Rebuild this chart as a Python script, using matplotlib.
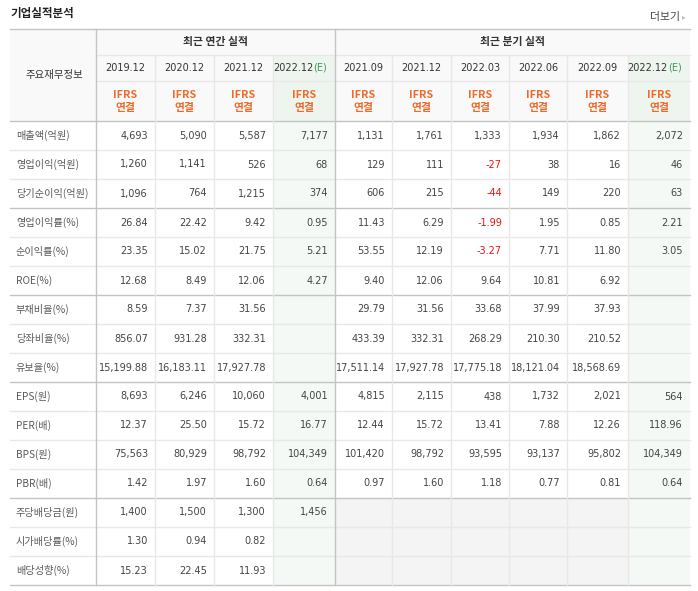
import matplotlib
matplotlib.use("Agg")
import matplotlib.pyplot as plt
from matplotlib.patches import Rectangle

# --- data -------------------------------------------------------------
row_labels = ['매출액(억원)', '영업이익(억원)', '당기순이익(억원)', '영업이익률(%)',
              '순이익률(%)', 'ROE(%)', '부채비율(%)', '당좌비율(%)', '유보율(%)',
              'EPS(원)', 'PER(배)', 'BPS(원)', 'PBR(배)', '주당배당금(원)',
              '시가배당률(%)', '배당성향(%)']
# 'i' -> integer with comma, 'f' -> 2 decimals
row_kinds = ['i', 'i', 'i', 'f', 'f', 'f', 'f', 'f', 'f', 'i', 'f', 'i', 'f', 'i', 'f', 'f']

annual_periods = ['2019.12', '2020.12', '2021.12', '2022.12']
quarter_periods = ['2021.09', '2021.12', '2022.03', '2022.06', '2022.09', '2022.12']

annual_values = [
    [4693, 5090, 5587, 7177],
    [1260, 1141, 526, 68],
    [1096, 764, 1215, 374],
    [26.84, 22.42, 9.42, 0.95],
    [23.35, 15.02, 21.75, 5.21],
    [12.68, 8.49, 12.06, 4.27],
    [8.59, 7.37, 31.56, None],
    [856.07, 931.28, 332.31, None],
    [15199.88, 16183.11, 17927.78, None],
    [8693, 6246, 10060, 4001],
    [12.37, 25.50, 15.72, 16.77],
    [75563, 80929, 98792, 104349],
    [1.42, 1.97, 1.60, 0.64],
    [1400, 1500, 1300, 1456],
    [1.30, 0.94, 0.82, None],
    [15.23, 22.45, 11.93, None],
]
quarter_values = [
    [1131, 1761, 1333, 1934, 1862, 2072],
    [129, 111, -27, 38, 16, 46],
    [606, 215, -44, 149, 220, 63],
    [11.43, 6.29, -1.99, 1.95, 0.85, 2.21],
    [53.55, 12.19, -3.27, 7.71, 11.80, 3.05],
    [9.40, 12.06, 9.64, 10.81, 6.92, None],
    [29.79, 31.56, 33.68, 37.99, 37.93, None],
    [433.39, 332.31, 268.29, 210.30, 210.52, None],
    [17511.14, 17927.78, 17775.18, 18121.04, 18568.69, None],
    [4815, 2115, 438, 1732, 2021, 564],
    [12.44, 15.72, 13.41, 7.88, 12.26, 118.96],
    [101420, 98792, 93595, 93137, 95802, 104349],
    [0.97, 1.60, 1.18, 0.77, 0.81, 0.64],
    [None] * 6,
    [None] * 6,
    [None] * 6,
]
quarter_na_rows = [13, 14, 15]   # shaded grey in quarterly block

# --- layout (pixels) ---------------------------------------------------
col_x = [10, 96, 155, 214, 273, 335, 392, 451, 509, 567, 628, 690]
head_y = [29, 55, 81, 121]
row_h = 29
row_y = [121 + i * row_h for i in range(len(row_labels) + 1)]
major_rows = [0, 3, 6, 9, 13, 16]

kr = ['Noto Sans CJK KR', 'DejaVu Sans']
num = ['DejaVu Sans', 'Noto Sans CJK KR']
dark_line = '#c4c4c4'
light_line = '#e8e8e8'
orange = '#ee6a2b'
green = '#3f9a5a'

fig = plt.figure(figsize=(6.98, 5.91), dpi=100)
ax = fig.add_axes([0, 0, 1, 1])
ax.set_xlim(0, 698)
ax.set_ylim(591, 0)
ax.axis('off')

# backgrounds
ax.add_patch(Rectangle((col_x[0], head_y[0]), col_x[-1] - col_x[0], head_y[-1] - head_y[0],
                       color='#f9f9f9', lw=0, zorder=0))
e_cols = [4, 10]
for c in e_cols:
    ax.add_patch(Rectangle((col_x[c], head_y[1]), col_x[c + 1] - col_x[c], head_y[-1] - head_y[1],
                           color='#eef5ef', lw=0, zorder=0))
    ax.add_patch(Rectangle((col_x[c], row_y[0]), col_x[c + 1] - col_x[c], row_y[-1] - row_y[0],
                           color='#f4f9f5', lw=0, zorder=0))
ax.add_patch(Rectangle((col_x[5], row_y[quarter_na_rows[0]]), col_x[10] - col_x[5],
                       row_y[-1] - row_y[quarter_na_rows[0]], color='#f4f4f4', lw=0, zorder=0))

# grid lines
for i, y in enumerate(row_y):
    ax.plot([col_x[0], col_x[-1]], [y, y], color=dark_line if i in major_rows else light_line,
            lw=1, zorder=1)
ax.plot([col_x[0], col_x[-1]], [head_y[0]] * 2, color=dark_line, lw=1, zorder=1)
for y in head_y[1:3]:
    ax.plot([col_x[1], col_x[-1]], [y, y], color=light_line, lw=1, zorder=1)
for j, x in enumerate(col_x[1:-1], start=1):
    if j in (1, 5):
        ax.plot([x, x], [head_y[0], row_y[-1]], color=dark_line, lw=1, zorder=2)
    else:
        ax.plot([x, x], [head_y[1], row_y[-1]], color=light_line, lw=1, zorder=1)

# title
ax.text(10, 14, '기업실적분석', family=kr, fontsize=8.3, fontweight='bold', color='#222',
        ha='left', va='center')
ax.text(680, 17, '더보기', family=kr, fontsize=7.8, color='#444', ha='right', va='center')
ax.text(682, 17, '▸', family=num, fontsize=5.5, color='#c0c0c0', ha='left', va='center')

# header
ax.text((col_x[0] + col_x[1]) / 2 + 1, (head_y[0] + head_y[-1]) / 2, '주요재무정보', family=kr,
        fontsize=7.5, color='#333', ha='center', va='center')
ax.text((col_x[1] + col_x[5]) / 2, (head_y[0] + head_y[1]) / 2, '최근 연간 실적', family=kr,
        fontsize=7.8, fontweight='bold', color='#333', ha='center', va='center')
ax.text((col_x[5] + col_x[-1]) / 2, (head_y[0] + head_y[1]) / 2, '최근 분기 실적', family=kr,
        fontsize=7.8, fontweight='bold', color='#333', ha='center', va='center')

periods = annual_periods + quarter_periods
date_y = (head_y[1] + head_y[2]) / 2
for j, p in enumerate(periods):
    cx = (col_x[j + 1] + col_x[j + 2]) / 2
    if j + 1 in e_cols:
        ax.text(cx + 9, date_y, p, family=num, fontsize=7.0, color='#333', ha='right', va='center')
        ax.text(cx + 9, date_y, '(E)', family=num, fontsize=7.0, color=green, ha='left',
                va='center')
    else:
        ax.text(cx, date_y, p, family=num, fontsize=7.0, color='#333', ha='center', va='center')
    ax.text(cx, 95, 'IFRS', family=kr, fontsize=7.8, fontweight='bold', color=orange,
            ha='center', va='center')
    ax.text(cx, 108, '연결', family=kr, fontsize=7.8, fontweight='bold', color=orange,
            ha='center', va='center')


def fmt(v, kind):
    if v is None:
        return ''
    if kind == 'i':
        return f'{v:,.0f}'
    return f'{v:,.2f}'


for i, lab in enumerate(row_labels):
    cy = (row_y[i] + row_y[i + 1]) / 2
    ax.text(16, cy, lab, family=kr, fontsize=7.3, color='#5a5a5a', ha='left', va='center')
    vals = annual_values[i] + quarter_values[i]
    for j, v in enumerate(vals):
        s = fmt(v, row_kinds[i])
        if not s:
            continue
        color = '#ee1111' if v < 0 else '#444'
        ax.text(col_x[j + 2] - 7, cy, s, family=num, fontsize=7.0, color=color,
                ha='right', va='center')

fig.savefig('out.png', dpi=100)
